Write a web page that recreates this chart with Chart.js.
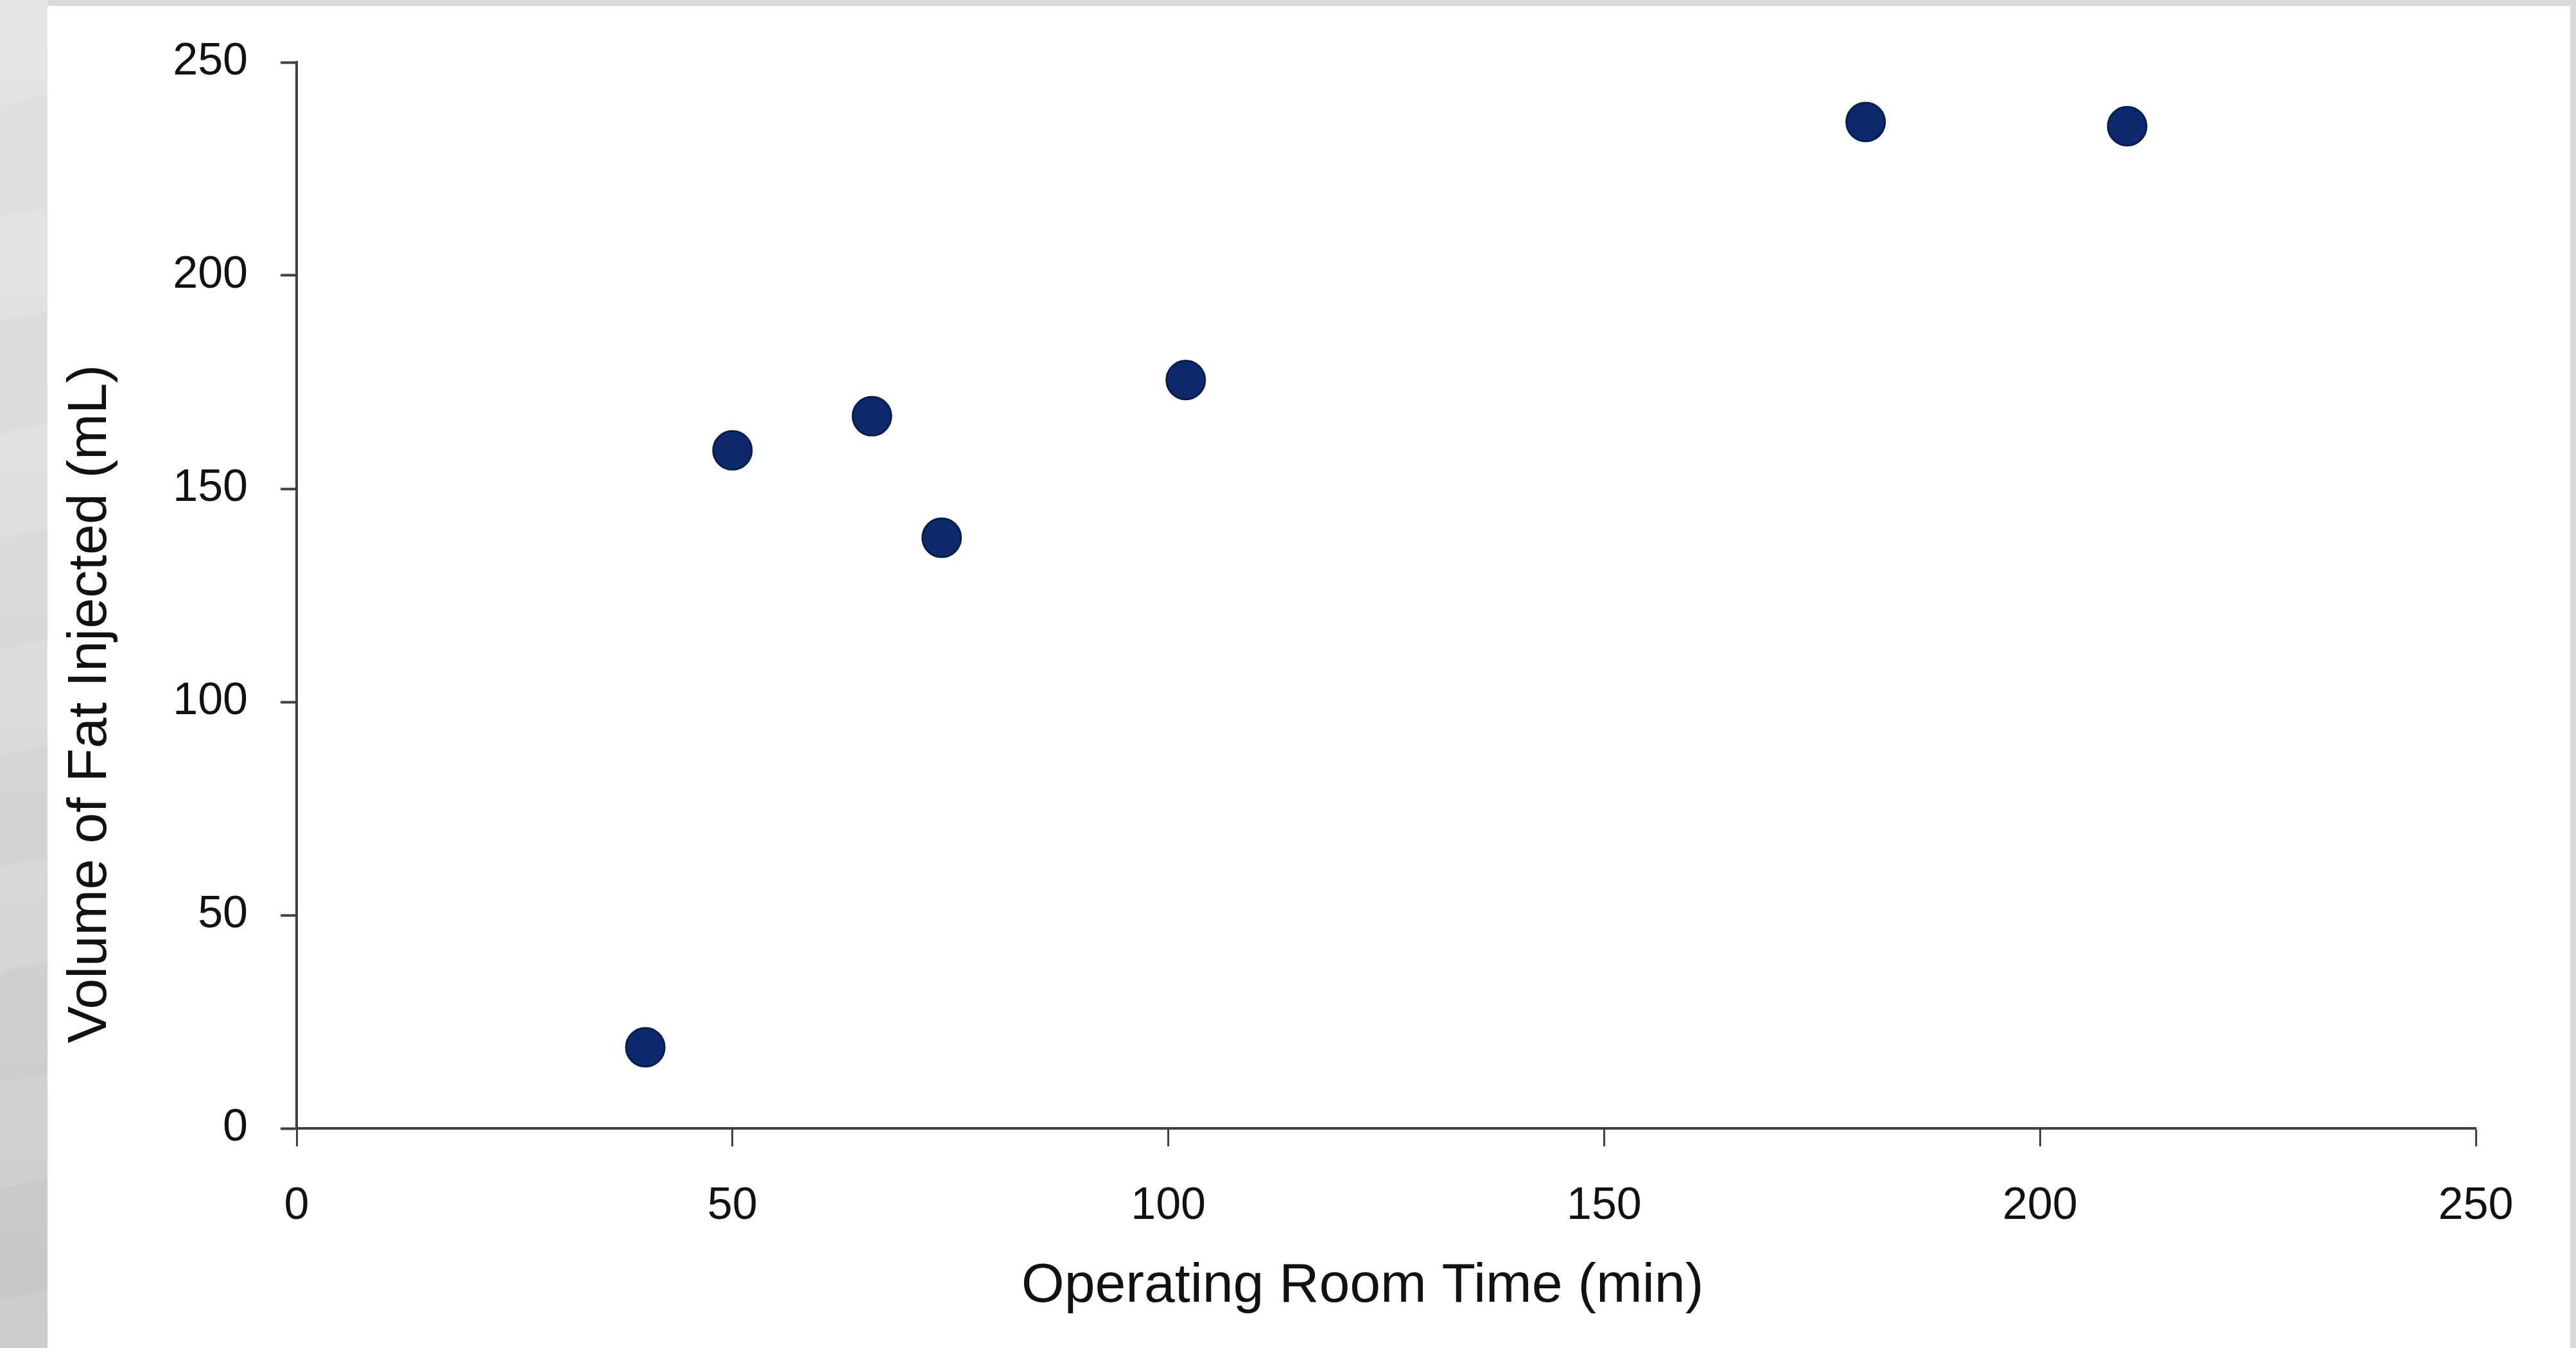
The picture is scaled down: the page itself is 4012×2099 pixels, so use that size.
<!DOCTYPE html>
<html>
<head>
<meta charset="utf-8">
<script src="https://cdn.jsdelivr.net/npm/chart.js@4/dist/chart.umd.min.js"></script>
<style>
  html, body { margin: 0; padding: 0; }
  body {
    width: 4012px; height: 2099px; overflow: hidden; position: relative;
    background: #dadada;
  }
  #leftStrip {
    position: absolute; left: 0; top: 0; width: 74px; height: 2099px;
    background:
      repeating-linear-gradient(168deg, rgba(255,255,255,0.05) 0px, rgba(255,255,255,0.05) 160px, rgba(0,0,0,0.015) 160px, rgba(0,0,0,0.015) 330px),
      linear-gradient(180deg, #e4e4e4 0%, #dcdcdc 45%, #c9c9c9 100%);
  }
  #panel {
    position: absolute; left: 74px; top: 9px; width: 3929px; height: 2090px;
    background: #ffffff;
  }
  #wrap { position: absolute; left: 0; top: 0; width: 4012px; height: 2099px; }
</style>
</head>
<body>
<div id="leftStrip"></div>
<div id="panel"></div>
<div id="wrap"><canvas id="c"></canvas></div>
<script>
// ---- data ----
const xValues = [40, 50, 66, 74, 102, 180, 210];          // Operating Room Time (min)
const yValues = [19, 159, 167, 138.5, 175.5, 236, 235];   // Volume of Fat Injected (mL)
const xTicks = [0, 50, 100, 150, 200, 250];
const yTicks = [0, 50, 100, 150, 200, 250];
const xTitle = 'Operating Room Time (min)';
const yTitle = 'Volume of Fat Injected (mL)';

const points = xValues.map((x, i) => ({ x: x, y: yValues[i] }));
const FONT = '"Liberation Sans", Arial, sans-serif';
const AXIS = '#404040';

const titlePlugin = {
  id: 'axisTitles',
  afterDraw(chart) {
    const ctx = chart.ctx;
    const a = chart.chartArea;
    ctx.save();
    ctx.fillStyle = '#111111';
    ctx.font = '86px ' + FONT;
    ctx.textAlign = 'center';
    ctx.textBaseline = 'alphabetic';
    ctx.fillText(xTitle, (a.left + a.right) / 2 - 37, a.bottom + 270);
    ctx.translate(a.left - 321, a.bottom - 661);
    ctx.rotate(-Math.PI / 2);
    ctx.textBaseline = 'middle';
    ctx.fillText(yTitle, 0, 0);
    ctx.restore();
  }
};

new Chart(document.getElementById('c'), {
  type: 'scatter',
  data: {
    datasets: [{
      data: points,
      backgroundColor: '#0c2a6b',
      borderColor: '#061d4f',
      borderWidth: 3,
      pointRadius: 30,
      pointHoverRadius: 30
    }]
  },
  options: {
    responsive: true,
    maintainAspectRatio: false,
    animation: false,
    devicePixelRatio: 1,
    layout: { padding: { top: 97, right: 156, left: 0, bottom: 0 } },
    plugins: { legend: { display: false }, tooltip: { enabled: false } },
    scales: {
      x: {
        type: 'linear',
        min: 0, max: 250,
        afterBuildTicks: (s) => { s.ticks = xTicks.map(v => ({ value: v })); },
        afterFit: (s) => { s.height = 342; },
        grid: { display: true, drawOnChartArea: false, drawTicks: true, tickLength: 28, tickWidth: 3, tickColor: AXIS },
        border: { display: true, color: AXIS, width: 4 },
        ticks: { color: '#111111', font: { family: FONT, size: 70 }, padding: 52, maxRotation: 0 }
      },
      y: {
        type: 'linear',
        min: 0, max: 250,
        afterBuildTicks: (s) => { s.ticks = yTicks.map(v => ({ value: v })); },
        afterFit: (s) => { s.width = 462; },
        grid: { display: true, drawOnChartArea: false, drawTicks: true, tickLength: 25, tickWidth: 4, tickColor: AXIS },
        border: { display: true, color: AXIS, width: 4 },
        ticks: { color: '#111111', font: { family: FONT, size: 70 }, padding: 51 }
      }
    }
  },
  plugins: [titlePlugin]
});
</script>
</body>
</html>
